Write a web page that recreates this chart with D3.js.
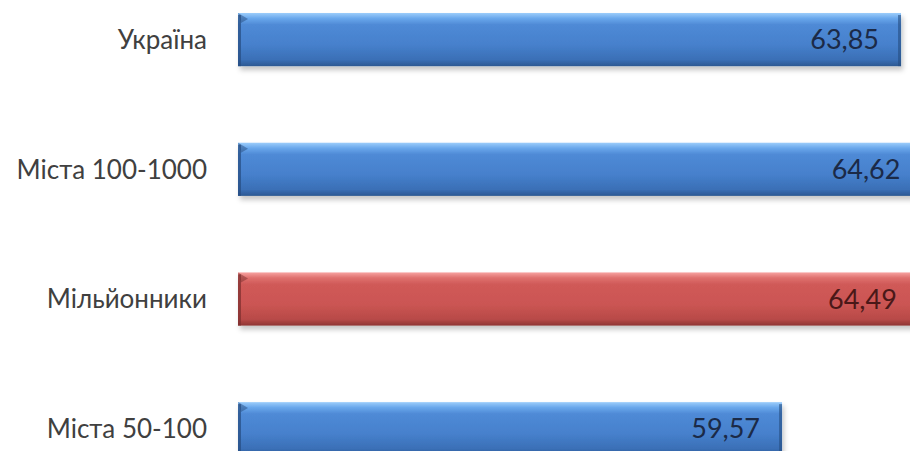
<!DOCTYPE html>
<html>
<head>
<meta charset="utf-8">
<script src="https://cdn.jsdelivr.net/npm/d3@7/dist/d3.min.js"></script>
<style>
  body { margin: 0; background: #fff; }
  svg { display: block; }
</style>
</head>
<body>
<div id="chart"></div>
<script>
var categories = ["Україна", "Міста 100-1000", "Мільйонники", "Міста 50-100"];
var values = [63.85, 64.62, 64.49, 59.57];
var labels = ["63,85", "64,62", "64,49", "59,57"];
var kinds = ["blue", "blue", "red", "blue"];

var width = 910, height = 451;
var svg = d3.select("#chart").append("svg")
  .attr("width", width)
  .attr("height", height);

var defs = svg.append("defs");
var palettes = {
  blue: [["0%", "#9ccdfb"], ["10%", "#6aa8ec"], ["22%", "#4f8ad6"], ["60%", "#4680cc"], ["88%", "#3a6fb6"], ["100%", "#2c5892"]],
  red: [["0%", "#f7a3a1"], ["10%", "#e0716f"], ["22%", "#d05a58"], ["60%", "#cb5553"], ["88%", "#b84a48"], ["100%", "#8e3534"]]
};
Object.keys(palettes).forEach(function(k) {
  var g = defs.append("linearGradient").attr("id", "grad-" + k)
    .attr("x1", 0).attr("y1", 0).attr("x2", 0).attr("y2", 1);
  palettes[k].forEach(function(s) {
    g.append("stop").attr("offset", s[0]).attr("stop-color", s[1]);
  });
});
var edge = { blue: "#254c80", red: "#7c2e2d" };
var textCol = { blue: "#1b2a47", red: "#4a1818" };

var f = defs.append("filter").attr("id", "shadow")
  .attr("x", "-5%").attr("y", "-20%").attr("width", "110%").attr("height", "160%");
f.append("feDropShadow").attr("dx", 2).attr("dy", 4).attr("stdDeviation", 2.5)
  .attr("flood-color", "#000").attr("flood-opacity", 0.22);

var x = d3.scaleLinear().domain([40, 65]).range([238, 933]);
var y = d3.scaleBand().domain(categories).range([13, 455.3])
  .paddingInner(0.59).paddingOuter(0).align(0);

var rows = svg.append("g").selectAll("g")
  .data(categories)
  .enter().append("g")
  .attr("transform", function(d) { return "translate(0," + y(d) + ")"; });

rows.append("rect")
  .attr("x", x(40))
  .attr("y", 0)
  .attr("width", function(d, i) { return x(values[i]) - x(40); })
  .attr("height", y.bandwidth())
  .attr("fill", function(d, i) { return "url(#grad-" + kinds[i] + ")"; })
  .attr("filter", "url(#shadow)");

// left bevel edge
rows.append("rect")
  .attr("x", x(40))
  .attr("y", 2)
  .attr("width", 3)
  .attr("height", y.bandwidth() - 2)
  .attr("fill", function(d, i) { return edge[kinds[i]]; })
  .attr("opacity", 0.7);

// top-left corner bevel
rows.append("path")
  .attr("d", function() {
    var x0 = x(40);
    return "M" + x0 + ",0 L" + (x0 + 10) + ",6 L" + (x0 + 3) + ",10 Z";
  })
  .attr("fill", function(d, i) { return edge[kinds[i]]; })
  .attr("opacity", 0.5);

// right end edge
rows.append("rect")
  .attr("x", function(d, i) { return x(values[i]) - 3; })
  .attr("y", 2)
  .attr("width", 3)
  .attr("height", y.bandwidth() - 2)
  .attr("fill", function(d, i) { return edge[kinds[i]]; })
  .attr("opacity", 0.6);

rows.append("text")
  .attr("x", function(d, i) { return x(values[i]) - 22; })
  .attr("y", y.bandwidth() / 2)
  .attr("dy", "0.36em")
  .attr("text-anchor", "end")
  .attr("font-family", "Lato, 'Open Sans', sans-serif")
  .attr("font-size", 27)
  .attr("fill", function(d, i) { return textCol[kinds[i]]; })
  .text(function(d, i) { return labels[i]; });

rows.append("text")
  .attr("x", 207)
  .attr("y", y.bandwidth() / 2)
  .attr("dy", "0.36em")
  .attr("text-anchor", "end")
  .attr("font-family", "Lato, 'Open Sans', sans-serif")
  .attr("font-size", 26)
  .attr("fill", "#404040")
  .text(function(d) { return d; });
</script>
</body>
</html>
